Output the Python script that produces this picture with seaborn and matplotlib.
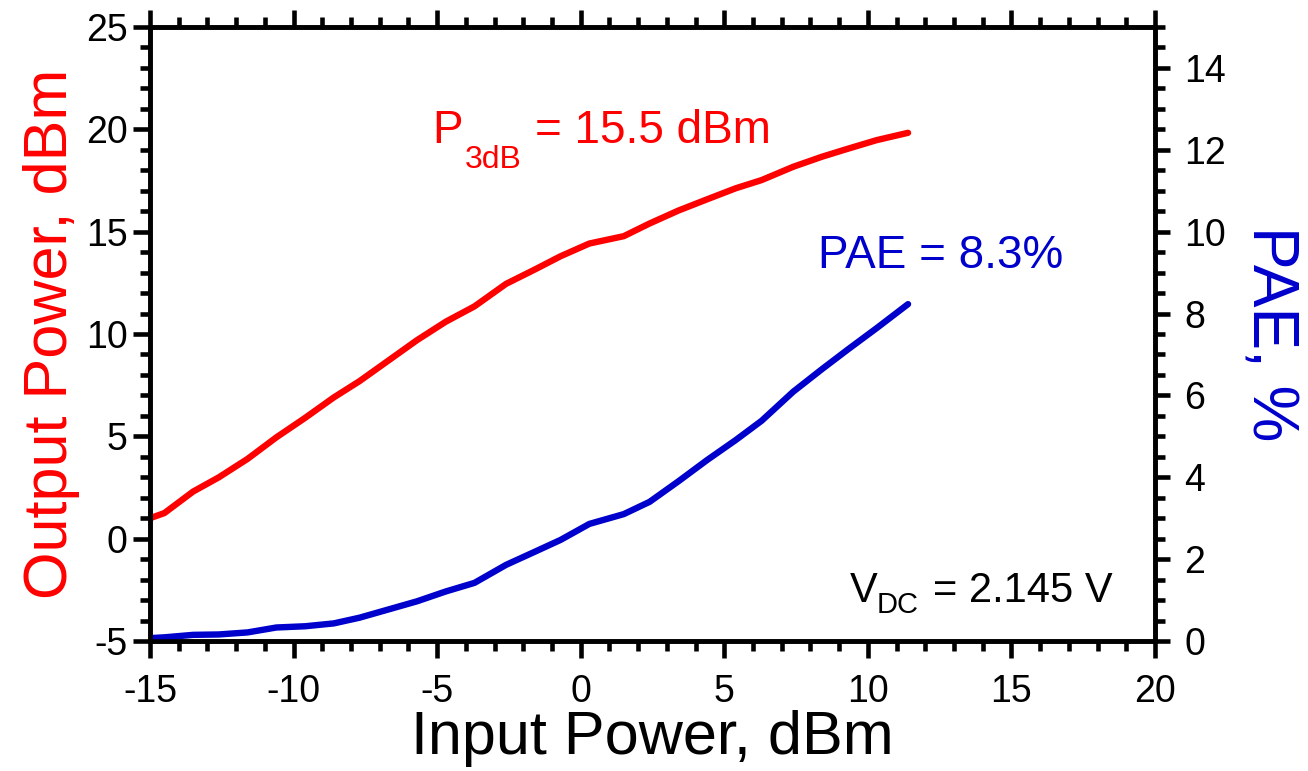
import matplotlib
matplotlib.use("Agg")
import matplotlib.pyplot as plt
import seaborn as sns
import pandas as pd
from matplotlib.ticker import MultipleLocator

# ---- data ----
pin = [-15, -14.5, -13.5, -12.6, -11.6, -10.6, -9.6, -8.6, -7.7, -6.7, -5.7, -4.7,
       -3.7, -2.6, -1.6, -0.7, 0.3, 1.5, 2.4, 3.4, 4.4, 5.4, 6.3, 7.4, 8.4, 9.3,
       10.3, 11.4]
pout = [1.0, 1.25, 2.3, 3.0, 3.9, 4.95, 5.9, 6.9, 7.7, 8.7, 9.7, 10.6, 11.35,
        12.45, 13.15, 13.8, 14.42, 14.78, 15.4, 16.03, 16.58, 17.12, 17.52,
        18.17, 18.66, 19.05, 19.47, 19.83]
pae = [0.07, 0.09, 0.15, 0.16, 0.21, 0.33, 0.36, 0.43, 0.57, 0.77, 0.97, 1.21,
       1.42, 1.86, 2.18, 2.47, 2.86, 3.10, 3.40, 3.90, 4.42, 4.91, 5.38, 6.09,
       6.64, 7.12, 7.64, 8.23]
x_ticks = [-15, -10, -5, 0, 5, 10, 15, 20]
y_ticks = [-5, 0, 5, 10, 15, 20, 25]
y2_ticks = [0, 2, 4, 6, 8, 10, 12, 14]

RED = "#FF0000"
BLUE = "#0000CC"

sns.set_style("ticks")
plt.rcParams["font.family"] = ["Liberation Sans", "DejaVu Sans"]
plt.rcParams["text.color"] = "black"
plt.rcParams["axes.labelcolor"] = "black"
plt.rcParams["xtick.color"] = "black"
plt.rcParams["ytick.color"] = "black"

W, H = 1308, 771
fig = plt.figure(figsize=(W / 100, H / 100), dpi=100)
ax = fig.add_axes([150 / W, 1 - 641 / H, (1155 - 150) / W, (641 - 27) / H])
ax2 = ax.twinx()

df = pd.DataFrame({"pin": pin, "pout": pout, "pae": pae})
sns.lineplot(data=df, x="pin", y="pout", ax=ax, color=RED, linewidth=4.6)
sns.lineplot(data=df, x="pin", y="pae", ax=ax2, color=BLUE, linewidth=4.6)

ax.set_xlim(-15, 20)
ax.set_ylim(-5, 25)
ax2.set_ylim(0, 15)
ax.set_xticks(x_ticks)
ax.set_yticks(y_ticks)
ax2.set_yticks(y2_ticks)
ax.set_xticklabels([str(v) for v in x_ticks])
ax.set_yticklabels([str(v) for v in y_ticks])
ax2.set_yticklabels([str(v) for v in y2_ticks])
ax.xaxis.set_minor_locator(MultipleLocator(1))
ax.yaxis.set_minor_locator(MultipleLocator(1))
ax2.yaxis.set_minor_locator(MultipleLocator(0.5))

for a in (ax, ax2):
    for s in a.spines.values():
        s.set_linewidth(3.3)
        s.set_color("black")
        s.set_visible(True)

ax.tick_params(axis="both", which="major", direction="out", length=12, width=3.3,
               labelsize=27, colors="black", top=True, labeltop=False)
ax.tick_params(axis="x", which="major", pad=12)
ax.tick_params(axis="y", which="major", pad=4)
ax.tick_params(axis="both", which="minor", direction="out", length=7, width=3.3,
               top=True)
ax2.tick_params(axis="y", which="major", direction="out", length=11, width=3.3,
                labelsize=27, colors="black", pad=10)
ax2.tick_params(axis="y", which="minor", direction="out", length=7, width=3.3)

ax.set_xlabel("Input Power, dBm", fontsize=44, labelpad=0, color="black")
ax.set_ylabel("Output Power, dBm", fontsize=44, color=RED, labelpad=4)
ax2.set_ylabel("PAE, %", fontsize=46, color=BLUE, rotation=270, va="bottom",
               labelpad=10)


def ftext(px, py, s, size, color):
    fig.text(px / W, 1 - py / H, s, fontsize=size, color=color,
             ha="left", va="baseline")


ftext(432, 143, "P", 33, RED)
ftext(465, 168, "3dB", 23, RED)
ftext(535, 143, "= 15.5 dBm", 33, RED)
ftext(818, 268, "PAE = 8.3%", 33, BLUE)
ftext(850, 602, "V", 30, "black")
ftext(877, 613, "DC", 21, "black")
ftext(933, 602, "= 2.145 V", 30, "black")

fig.savefig("out.png", dpi=100)
